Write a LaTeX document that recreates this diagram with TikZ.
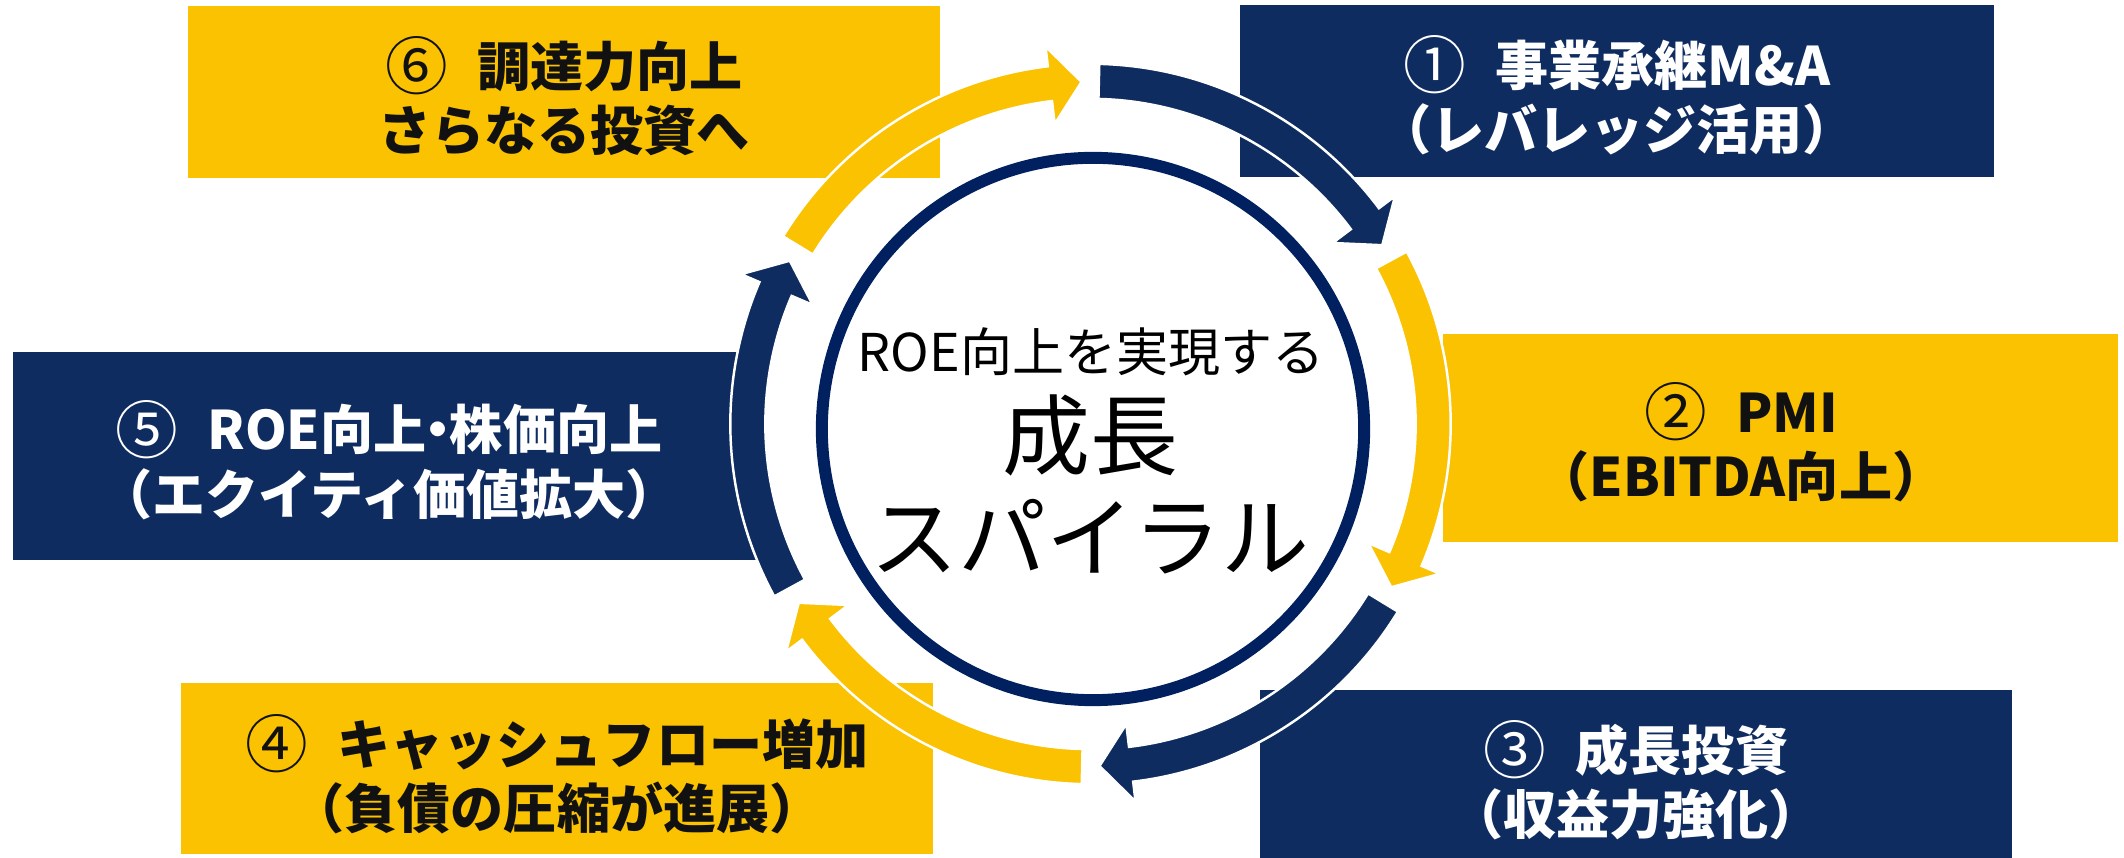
\documentclass[tikz,border=0pt]{standalone}
\usepackage{graphicx}
\usepackage{fontspec}
\setmainfont{Noto Sans CJK JP}
\definecolor{navybox}{HTML}{0E2C60}
\definecolor{ringblue}{HTML}{002060}
\definecolor{goldbox}{HTML}{FAC200}
\definecolor{inktext}{HTML}{111111}
\newcommand\cnum[1]{\raisebox{-0.06em}{\scalebox{1.18}{\mdseries #1}}\hspace{0.55em}}
\newcommand\ndot{\hspace{-0.28em}・\hspace{-0.28em}}
\begin{document}
\begin{tikzpicture}[x=0.01cm,y=0.01cm,
  navyfill/.style={fill=navybox, inner sep=0pt, outer sep=0pt},
  goldfill/.style={fill=goldbox, inner sep=0pt, outer sep=0pt},
  boxtext/.style={align=center, inner sep=0pt, font=\fontsize{15.1}{18.3}\selectfont\bfseries},
  navytext/.style={boxtext, text=white},
  goldtext/.style={boxtext, text=inktext},
  spiral/.style={draw=white, line width=0.7pt},
  centersmall/.style={inner sep=0pt, font=\fontsize{14.8}{17}\selectfont},
  centerbig/.style={inner sep=0pt, font=\fontsize{25}{30}\selectfont}]
\useasboundingbox[fill=white] (0,0) rectangle (2124,858);

% boxes
\node[goldfill, minimum width=7.52cm, minimum height=1.72cm] (b6) at (564,766) {};
\node[navyfill, minimum width=7.54cm, minimum height=1.72cm] (b1) at (1617,767) {};
\node[goldfill, minimum width=6.75cm, minimum height=2.08cm] (b2) at (1780.5,420) {};
\node[navyfill, minimum width=7.52cm, minimum height=2.08cm] (b5) at (389,402) {};
\node[goldfill, minimum width=7.52cm, minimum height=1.71cm] (b4) at (557,89.5) {};
\node[navyfill, minimum width=7.52cm, minimum height=1.68cm] (b3) at (1636,84) {};

% box texts
\node[goldtext] (t6) at (564,761.5) {\cnum{⑥}調達力向上\\さらなる投資へ};
\node[navytext] (t1) at (1617,762.5) {\cnum{①}事業承継M\&A\\（レバレッジ活用）};
\node[goldtext] (t2) at (1741,415.5) {\cnum{②}PMI\\（EBITDA向上）};
\node[navytext] (t5) at (389,398) {\cnum{⑤}ROE向上\ndot 株価向上\\（エクイティ価値拡大）};
\node[goldtext] (t4) at (557,83.5) {\cnum{④}キャッシュフロー増加\\（負債の圧縮が進展）};
\node[navytext] (t3) at (1636,77.5) {\cnum{③}成長投資\\（収益力強化）};

% spiral arrows
\begin{scope}[shift={(1090.5,434)}]
\foreach \k/\col in {0/navybox,1/goldbox,2/navybox,3/goldbox,4/navybox,5/goldbox}{
  \pgfmathsetmacro\sa{88.6-60*\k}
  \pgfmathsetmacro\ta{31.5-60*\k}
  \pgfmathsetmacro\ha{\ta+5.3}
  \fill[spiral, fill=\col] (\sa:3.60cm) arc[start angle=\sa, end angle=\ha, radius=3.60cm]
     -- (\ha:3.80cm) -- (\ta:3.42cm) -- (\ha:3.02cm) -- (\ha:3.25cm)
     arc[start angle=\ha, end angle=\sa, radius=3.25cm] -- cycle;
}
\end{scope}

% centre
\node[circle, draw=ringblue, line width=3.4pt, minimum size=5.42cm, inner sep=0pt] (ring) at (1093,429) {};
\node[centersmall] (c1) at (1091,506) {ROE向上を実現する};
\node[centerbig] (c2) at (1090,423) {成長};
\node[centerbig] (c3) at (1090,321) {スパイラル};
\end{tikzpicture}
\end{document}
